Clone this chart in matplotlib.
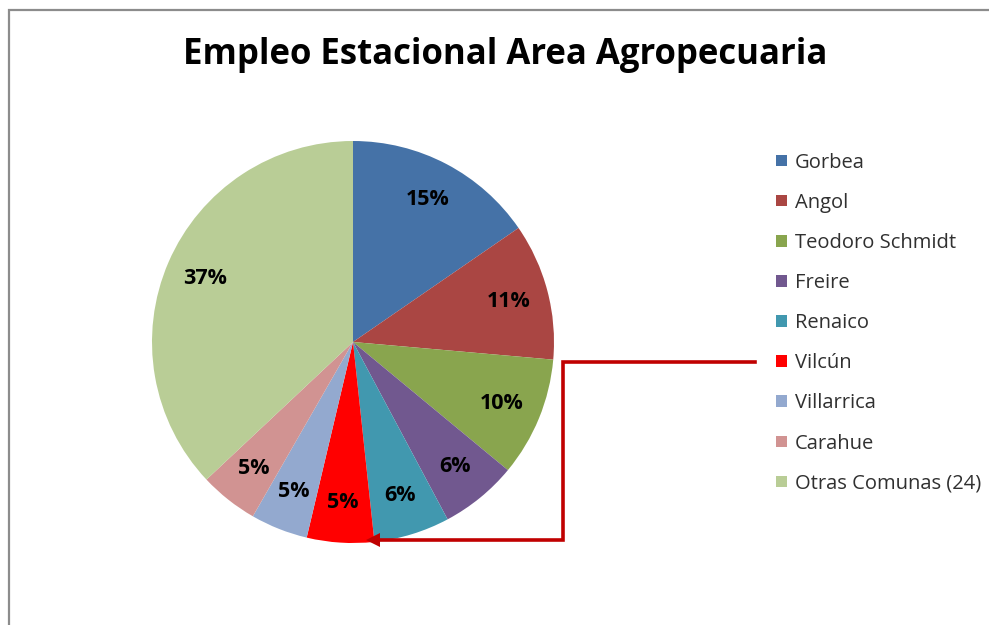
import matplotlib
matplotlib.use("Agg")
from matplotlib import pyplot as plt
from matplotlib.patches import Rectangle, FancyArrow
from matplotlib.lines import Line2D

TITLE = "Empleo Estacional Area Agropecuaria"
comunas = ["Gorbea", "Angol", "Teodoro Schmidt", "Freire", "Renaico",
           "Vilcún", "Villarrica", "Carahue", "Otras Comunas (24)"]
shares = [15.4, 11.0, 9.6, 6.2, 6.1, 5.4, 4.6, 4.7, 37.0]
colors = ["#4572A7", "#AA4643", "#89A54E", "#71588F", "#4198AF",
          "#FF0000", "#93A9CF", "#D19392", "#B9CD96"]

W, H = 989, 625
plt.rcParams['font.family'] = ['Open Sans', 'DejaVu Sans']

fig = plt.figure(figsize=(W / 100, H / 100), dpi=100)

# chart border (only left and top edges visible in the crop)
fig.patches.append(Rectangle((9 / W, -0.1), 1.2, 1 - 10 / H + 0.1,
                             transform=fig.transFigure, fill=False,
                             edgecolor="#8c8c8c", linewidth=1.6))

cx, cy, r = 353, 342, 201
ax = fig.add_axes([(cx - r) / W, (H - cy - r) / H, 2 * r / W, 2 * r / H])
wedges, texts, autotexts = ax.pie(
    shares, colors=colors, startangle=90, counterclock=False,
    autopct=lambda p: f"{p:.0f}%", pctdistance=0.8,
    wedgeprops=dict(linewidth=0),
    textprops=dict(fontsize=15.5, fontweight="bold", color="black"))
ax.set_xlim(-1, 1)
ax.set_ylim(-1, 1)
ax.set_aspect("equal")

fig.text(505 / W, 1 - 55 / H, TITLE, ha="center", va="center",
         fontsize=25, fontweight="bold", color="black")

fig.legend(wedges, comunas, loc="upper left",
           bbox_to_anchor=(758 / W, 1 - 134.5 / H), frameon=False,
           fontsize=14.5, labelcolor="#303030", handlelength=0.52,
           handleheight=0.52, handletextpad=0.42, labelspacing=1.0)

# red connector from the legend entry to the Vilcún slice
red = "#C00000"
fig.lines.append(Line2D([755 / W, 563 / W, 563 / W, 378 / W],
                        [1 - 362 / H, 1 - 362 / H, 1 - 540 / H, 1 - 540 / H],
                        transform=fig.transFigure, color=red, linewidth=2.6,
                        solid_joinstyle="miter"))
fig.patches.append(FancyArrow(
    380 / W, 1 - 540 / H, -14 / W, 0, width=0.0001, head_width=14 / H,
    head_length=14 / W, length_includes_head=True, transform=fig.transFigure,
    color=red, linewidth=0))

fig.savefig("out.png", dpi=100)
